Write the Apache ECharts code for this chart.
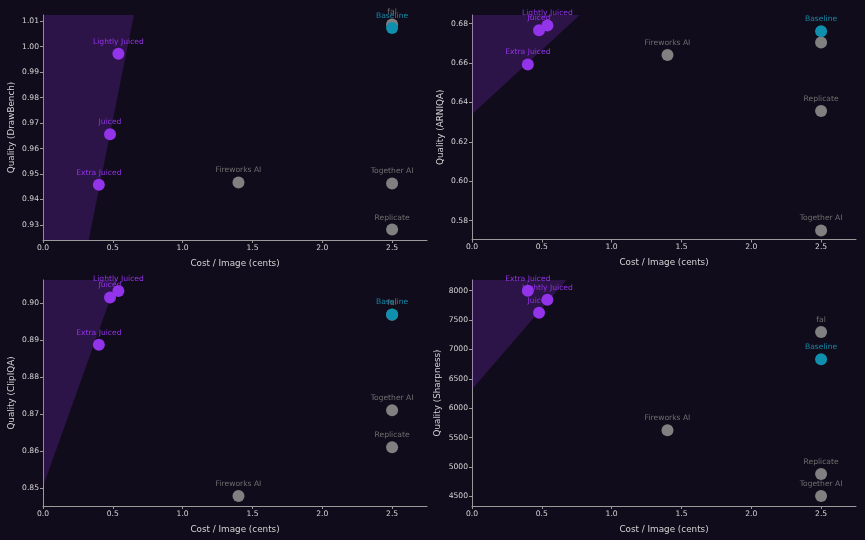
<!DOCTYPE html>
<html>
<head>
<meta charset="utf-8">
<script src="https://cdn.jsdelivr.net/npm/echarts@6/dist/echarts.min.js"></script>
<style>
html,body{margin:0;padding:0;background:#110c1b;}
#c{width:865px;height:540px;}
</style>
</head>
<body>
<div id="c"></div>
<script>
// ---- data ----
const names = ["Extra Juiced", "Juiced", "Lightly Juiced", "Fireworks AI", "Together AI", "Replicate", "fal", "Baseline"];
const groups = ["juiced", "juiced", "juiced", "other", "other", "other", "other", "baseline"];
const cost = [0.40, 0.48, 0.54, 1.40, 2.50, 2.50, 2.50, 2.50];

const drawBench = [0.9458, 0.9656, 0.9972, 0.9467, 0.9463, 0.9282, 1.0087, 1.0073];
const arniqa    = [0.6593, 0.6766, 0.6791, 0.6641, 0.5750, 0.6356, 0.6704, 0.6761];
const clipiqa   = [0.8887, 0.9015, 0.9032, 0.8478, 0.8710, 0.8610, 0.8968, 0.8969];
const sharpness = [8000, 7626, 7847, 5624, 4505, 4880, 7297, 6832];

const xTicks = [0, 0.5, 1.0, 1.5, 2.0, 2.5];
const yTicksDrawBench = [0.93, 0.94, 0.95, 0.96, 0.97, 0.98, 0.99, 1.00, 1.01];
const yTicksArniqa = [0.58, 0.60, 0.62, 0.64, 0.66, 0.68];
const yTicksClipiqa = [0.85, 0.86, 0.87, 0.88, 0.89, 0.90];
const yTicksSharpness = [4500, 5000, 5500, 6000, 6500, 7000, 7500, 8000];

// shaded "better" region vertices (data coordinates)
const shadeDrawBench = [[0, 1.0124], [0.651, 1.0124], [0.327, 0.9241], [0, 0.9241]];
const shadeArniqa = [[0, 0.6844], [0.772, 0.6844], [0, 0.634]];
const shadeClipiqa = [[0, 0.9062], [0.53, 0.9062], [0, 0.8504]];
const shadeSharpness = [[0, 8182], [0.676, 8182], [0, 6322]];

// ---- layout / style ----
const panels = [
  {vals: drawBench, ticks: yTicksDrawBench, shade: shadeDrawBench, title: "Quality (DrawBench)", min: 0.9241, max: 1.0124, dec: 2, grid: {left: 43, top: 15, width: 384, height: 225}, gap: 27},
  {vals: arniqa, ticks: yTicksArniqa, shade: shadeArniqa, title: "Quality (ARNIQA)", min: 0.5704, max: 0.6844, dec: 2, grid: {left: 472, top: 15, width: 384, height: 224.5}, gap: 27},
  {vals: clipiqa, ticks: yTicksClipiqa, shade: shadeClipiqa, title: "Quality (ClipIQA)", min: 0.8451, max: 0.9062, dec: 2, grid: {left: 43, top: 280, width: 384, height: 226}, gap: 27},
  {vals: sharpness, ticks: yTicksSharpness, shade: shadeSharpness, title: "Quality (Sharpness)", min: 4335, max: 8182, dec: 0, grid: {left: 472, top: 280, width: 384, height: 226}, gap: 30}
];

const colors = {juiced: "#9333ea", other: "#808080", baseline: "#0e8fae"};
const labelColors = {juiced: "#9333ea", other: "#6e6e6e", baseline: "#1689a8"};
const axisColor = "#9a9a9a";
const textColor = "#d4d4d4";
const font = "DejaVu Sans";

const grids = [], xAxes = [], yAxes = [], series = [];
panels.forEach((p, i) => {
  grids.push(Object.assign({containLabel: false}, p.grid));
  xAxes.push({
    type: "value", gridIndex: i, min: 0, max: 2.75,
    name: "Cost / Image (cents)", nameLocation: "middle", nameGap: 19,
    nameTextStyle: {color: textColor, fontSize: 8.8, fontFamily: font},
    axisLine: {show: true, lineStyle: {color: axisColor, width: 1}},
    axisTick: {show: true, length: 3, lineStyle: {color: axisColor}, customValues: xTicks},
    axisLabel: {color: textColor, fontSize: 7.6, fontFamily: font, margin: 4, customValues: xTicks, formatter: v => v.toFixed(1)},
    splitLine: {show: false}
  });
  yAxes.push({
    type: "value", gridIndex: i, min: p.min, max: p.max,
    name: p.title, nameLocation: "middle", nameGap: p.gap, nameRotate: 90,
    nameTextStyle: {color: textColor, fontSize: 8.8, fontFamily: font},
    axisLine: {show: true, lineStyle: {color: axisColor, width: 1}},
    axisTick: {show: true, length: 3, lineStyle: {color: axisColor}, customValues: p.ticks},
    axisLabel: {color: textColor, fontSize: 7.6, fontFamily: font, margin: 4, customValues: p.ticks, formatter: v => v.toFixed(p.dec)},
    splitLine: {show: false}
  });
  series.push({
    type: "custom", xAxisIndex: i, yAxisIndex: i, clip: true, z: 1, silent: true,
    data: [0],
    renderItem: (params, api) => ({
      type: "polygon",
      shape: {points: p.shade.map(v => api.coord(v))},
      style: {fill: "rgba(147,51,234,0.22)"}
    })
  });
  ["other", "juiced", "baseline"].forEach((g, gi) => {
    const data = [];
    names.forEach((n, k) => { if (groups[k] === g) data.push({name: n, value: [cost[k], p.vals[k]]}); });
    series.push({
      type: "scatter", xAxisIndex: i, yAxisIndex: i, z: 2 + gi,
      symbolSize: 12, data: data,
      itemStyle: {color: colors[g], opacity: 1},
      label: {show: true, position: "top", distance: 2, formatter: "{b}", color: labelColors[g], fontSize: 7.6, fontFamily: font},
      emphasis: {disabled: true}
    });
  });
});

const chart = echarts.init(document.getElementById("c"), null, {renderer: "canvas"});
chart.setOption({
  backgroundColor: "#110c1b",
  animation: false,
  grid: grids, xAxis: xAxes, yAxis: yAxes, series: series
});
</script>
</body>
</html>
